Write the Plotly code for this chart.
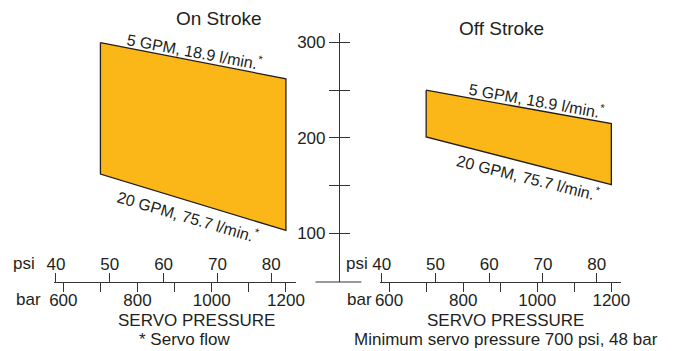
import plotly.graph_objects as go

# ---- data ----
bar_ticks = [600, 700, 800, 900, 1000, 1100, 1200]
bar_labels = ["600", "", "800", "", "1000", "", "1200"]
psi_ticks = [40, 50, 60, 70, 80]
psi_labels = ["40", "50", "60", "70", "80"]
y_ticks = [100, 150, 200, 250, 300]
y_labels = ["100", "", "200", "", "300"]

pressure = [700, 1200]
on_top = [300, 262]       # 5 GPM, 18.9 l/min
on_bottom = [162, 103]    # 20 GPM, 75.7 l/min
off_top = [250, 215]
off_bottom = [201, 151]

BAR_TO_PSI = 14.5038
X_RANGE = [574.5, 1227.1]
Y_RANGE = [48.9, 310]

W, H = 675, 351
TXT = "#231f20"
FILL = "#fbb617"
FONT = "Liberation Sans, Arial, Helvetica, sans-serif"

fig = go.Figure()


def band(xa, top, bot):
    fig.add_trace(go.Scatter(
        x=[pressure[0], pressure[1], pressure[1], pressure[0], pressure[0]],
        y=[top[0], top[1], bot[1], bot[0], top[0]],
        mode="lines", fill="toself", fillcolor=FILL,
        line=dict(color=TXT, width=1.3),
        xaxis=xa, yaxis="y", hoverinfo="skip", showlegend=False))


band("x", on_top, on_bottom)
band("x2", off_top, off_bottom)


def interp(xv, ys):
    return ys[0] + (ys[1] - ys[0]) * (xv - pressure[0]) / (pressure[1] - pressure[0])


anns = []


def edge_label(xref, xv, ys, text, angle, yshift):
    anns.append(dict(x=xv, y=interp(xv, ys), xref=xref, yref="y", text=text,
                     showarrow=False, textangle=angle, yshift=yshift,
                     font=dict(size=16, color=TXT, family=FONT),
                     xanchor="center", yanchor="middle"))


edge_label("x", 955, on_top, "5 GPM, 18.9 l/min.<sup>*</sup>", 10.6, 10)
edge_label("x", 935, on_bottom, "20 GPM, 75.7 l/min.<sup>*</sup>", 16.3, -15)
edge_label("x2", 999, off_top, "5 GPM, 18.9 l/min.<sup>*</sup>", 10.1, 10)
edge_label("x2", 975, off_bottom, "20 GPM, 75.7 l/min.<sup>*</sup>", 14.0, -14)


def ptext(x, y, text, size=17, xanchor="center"):
    anns.append(dict(x=x / W, y=1 - y / H, xref="paper", yref="paper", text=text,
                     showarrow=False, xanchor=xanchor, yanchor="middle",
                     font=dict(size=size, color=TXT, family=FONT)))


ptext(217, 18, "On Stroke", 19)
ptext(507, 28, "Off Stroke", 19)
ptext(17, 263, "psi")
ptext(359, 263, "psi")
ptext(22, 299.5, "bar")
ptext(361, 299.5, "bar")
ptext(194, 320, "SERVO PRESSURE")
ptext(511, 320, "SERVO PRESSURE")
ptext(182, 339, "* Servo flow")
ptext(511, 339, "Minimum servo pressure 700 psi, 48 bar")

y_dom = [(H - 282) / H, (H - 33) / H]
axis_x_pos = 340 / W

common_x = dict(range=X_RANGE, showgrid=False, zeroline=False, showline=True,
                linecolor="#333", linewidth=1, ticks="outside", ticklen=9,
                tickcolor="#333", tickwidth=1, tickvals=bar_ticks, ticktext=bar_labels,
                tickfont=dict(size=17, color=TXT, family=FONT), anchor="y",
                ticklabelstandoff=-6, fixedrange=True)

psi_range = [X_RANGE[0] / BAR_TO_PSI, X_RANGE[1] / BAR_TO_PSI]
common_psi = dict(range=psi_range, showgrid=False, zeroline=False, showline=False,
                  ticks="outside", ticklen=9, tickcolor="#333", tickwidth=1,
                  tickvals=psi_ticks, ticktext=psi_labels, side="top",
                  anchor="free", position=y_dom[0], ticklabelstandoff=-4,
                  tickfont=dict(size=17, color=TXT, family=FONT))

fig.update_layout(
    width=W, height=H, autosize=False,
    margin=dict(l=0, r=0, t=0, b=0, pad=0),
    paper_bgcolor="white", plot_bgcolor="rgba(0,0,0,0)",
    showlegend=False,
    xaxis=dict(domain=[48 / W, 296 / W], **common_x),
    xaxis2=dict(domain=[381.7 / W, 629.3 / W], **common_x),
    xaxis3=dict(overlaying="x", **common_psi),
    xaxis4=dict(overlaying="x2", **common_psi),
    yaxis=dict(domain=y_dom, range=Y_RANGE, anchor="free", position=axis_x_pos,
               showgrid=False, zeroline=False, showline=True, linecolor="#333",
               linewidth=1, ticks="outside", ticklen=10, tickcolor="#333",
               tickvals=y_ticks, ticktext=y_labels,
               tickfont=dict(size=17, color=TXT, family=FONT), fixedrange=True),
    yaxis2=dict(domain=y_dom, range=Y_RANGE, overlaying="y", anchor="free",
                position=axis_x_pos, showgrid=False, zeroline=False, showline=False,
                ticks="inside", ticklen=10, tickcolor="#333",
                tickvals=y_ticks, showticklabels=False),
    annotations=anns,
    shapes=[dict(type="line", xref="paper", yref="paper",
                 x0=316 / W, x1=363 / W, y0=y_dom[0], y1=y_dom[0],
                 line=dict(color="#333", width=1))],
)

# dummy traces so the overlay axes are rendered
fig.add_trace(go.Scatter(x=[None], y=[None], xaxis="x3", yaxis="y", showlegend=False))
fig.add_trace(go.Scatter(x=[None], y=[None], xaxis="x4", yaxis="y", showlegend=False))
fig.add_trace(go.Scatter(x=[None], y=[None], xaxis="x", yaxis="y2", showlegend=False))

fig.write_html("out.html", config={"displayModeBar": False},
               post_script="document.body.style.margin='0';document.body.style.overflow='hidden';")
